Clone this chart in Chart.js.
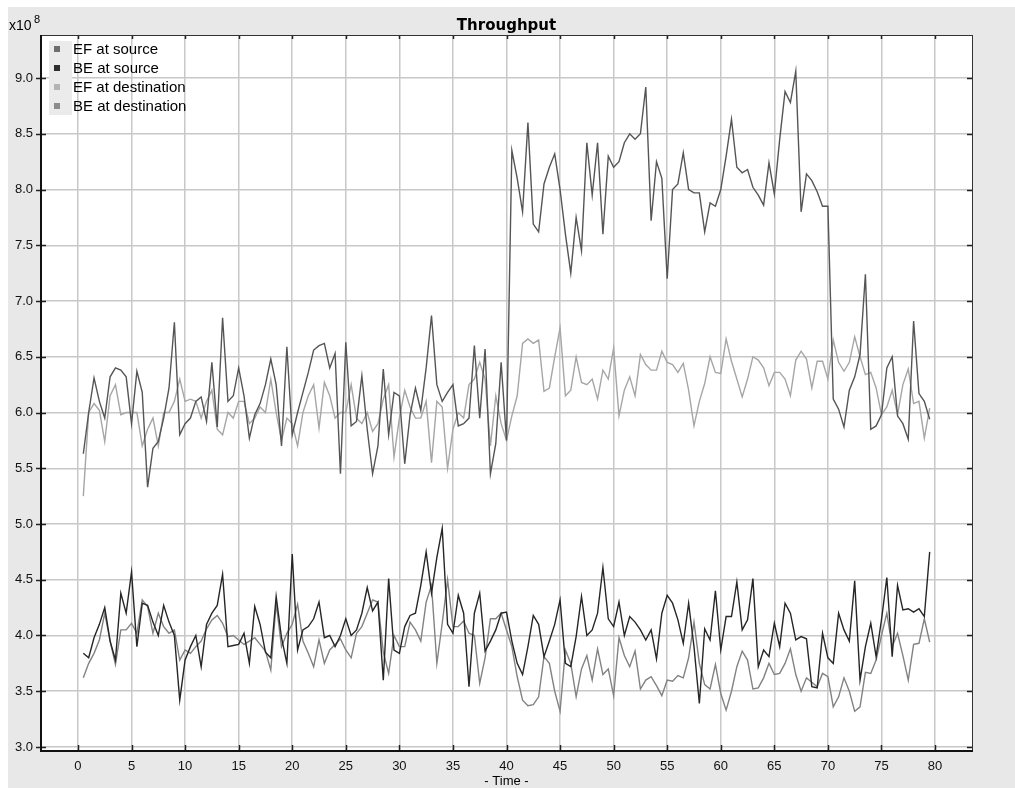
<!DOCTYPE html>
<html>
<head>
<meta charset="utf-8">
<title>Throughput</title>
<script src="https://cdn.jsdelivr.net/npm/chart.js@4.4.0/dist/chart.umd.min.js"></script>
<style>
    html, body { margin: 0; padding: 0; background: #fff; }
    canvas { display: block; }
</style>
</head>
<body>
<canvas id="chart" width="1015" height="788"></canvas>
<script>
// time axis (one sample every half unit)
const times = [
    0.5, 1, 1.5, 2, 2.5, 3, 3.5, 4, 4.5, 5,
    5.5, 6, 6.5, 7, 7.5, 8, 8.5, 9, 9.5, 10,
    10.5, 11, 11.5, 12, 12.5, 13, 13.5, 14, 14.5, 15,
    15.5, 16, 16.5, 17, 17.5, 18, 18.5, 19, 19.5, 20,
    20.5, 21, 21.5, 22, 22.5, 23, 23.5, 24, 24.5, 25,
    25.5, 26, 26.5, 27, 27.5, 28, 28.5, 29, 29.5, 30,
    30.5, 31, 31.5, 32, 32.5, 33, 33.5, 34, 34.5, 35,
    35.5, 36, 36.5, 37, 37.5, 38, 38.5, 39, 39.5, 40,
    40.5, 41, 41.5, 42, 42.5, 43, 43.5, 44, 44.5, 45,
    45.5, 46, 46.5, 47, 47.5, 48, 48.5, 49, 49.5, 50,
    50.5, 51, 51.5, 52, 52.5, 53, 53.5, 54, 54.5, 55,
    55.5, 56, 56.5, 57, 57.5, 58, 58.5, 59, 59.5, 60,
    60.5, 61, 61.5, 62, 62.5, 63, 63.5, 64, 64.5, 65,
    65.5, 66, 66.5, 67, 67.5, 68, 68.5, 69, 69.5, 70,
    70.5, 71, 71.5, 72, 72.5, 73, 73.5, 74, 74.5, 75,
    75.5, 76, 76.5, 77, 77.5, 78, 78.5, 79, 79.5
];

// throughput, x10^8
const efSource = [
    5.63, 6.00, 6.31, 6.10, 5.95, 6.32, 6.40, 6.38, 6.32, 5.90,
    6.37, 6.18, 5.33, 5.68, 5.74, 5.95, 6.22, 6.81, 5.80, 5.90,
    5.95, 6.10, 6.14, 5.92, 6.45, 5.87, 6.85, 6.10, 6.15, 6.40,
    6.15, 5.77, 5.98, 6.08, 6.25, 6.48, 6.25, 5.70, 6.59, 5.80,
    6.00, 6.18, 6.36, 6.56, 6.60, 6.62, 6.40, 6.53, 5.45, 6.63,
    5.88, 5.92, 6.33, 5.85, 5.45, 5.70, 6.39, 5.80, 6.18, 6.15,
    5.54, 5.98, 6.22, 6.02, 6.40, 6.87, 6.25, 6.10, 6.18, 6.25,
    5.88, 5.90, 5.95, 6.60, 5.95, 6.57, 5.45, 5.72, 6.45, 5.75,
    8.35, 8.10, 7.80, 8.60, 7.69, 7.62, 8.05, 8.20, 8.32, 8.00,
    7.60, 7.25, 7.75, 7.45, 8.42, 7.95, 8.42, 7.60, 8.30, 8.20,
    8.25, 8.42, 8.50, 8.45, 8.50, 8.92, 7.72, 8.25, 8.10, 7.20,
    8.00, 8.05, 8.33, 8.00, 7.97, 7.97, 7.62, 7.88, 7.85, 8.00,
    8.30, 8.63, 8.20, 8.15, 8.18, 8.02, 7.95, 7.86, 8.24, 7.96,
    8.45, 8.88, 8.78, 9.06, 7.80, 8.14, 8.08, 7.98, 7.85, 7.85,
    6.12, 6.03, 5.87, 6.20, 6.32, 6.52, 7.24, 5.85, 5.88, 5.98,
    6.40, 6.50, 5.97, 5.90, 5.76, 6.82, 6.17, 6.10, 5.94
];

const beSource = [
    3.84, 3.80, 3.98, 4.10, 4.25, 3.95, 3.78, 4.38, 4.20, 4.57,
    3.90, 4.29, 4.27, 4.12, 4.00, 4.27, 4.12, 4.00, 3.42, 3.78,
    3.90, 4.00, 3.72, 4.10, 4.20, 4.27, 4.55, 3.90, 3.91, 3.92,
    4.02, 3.75, 4.26, 4.10, 3.85, 3.80, 4.35, 3.98, 3.75, 4.73,
    3.87, 4.05, 4.08, 4.15, 4.30, 3.98, 4.00, 3.90, 4.00, 4.15,
    4.00, 4.05, 4.20, 4.43, 4.22, 4.30, 3.60, 4.51, 3.87, 3.84,
    4.08, 4.18, 4.20, 4.45, 4.75, 4.38, 4.70, 4.96, 4.10, 4.02,
    4.36, 4.20, 3.54, 4.20, 4.38, 3.86, 3.95, 4.05, 4.20, 4.21,
    3.95, 3.75, 3.65, 3.90, 4.18, 4.10, 3.81, 3.95, 4.10, 4.32,
    3.75, 3.72, 3.99, 4.35, 4.00, 4.05, 4.20, 4.61, 4.15, 4.08,
    4.30, 4.00, 4.17, 4.12, 4.05, 3.96, 4.05, 3.79, 4.20, 4.36,
    4.29, 4.14, 3.93, 4.29, 3.90, 3.39, 4.06, 3.96, 4.40, 3.87,
    4.17, 4.17, 4.48, 4.05, 4.14, 4.51, 3.72, 3.87, 3.81, 4.11,
    3.90, 4.29, 4.20, 3.96, 3.99, 3.97, 3.54, 3.53, 4.02, 3.80,
    3.75, 4.20, 4.05, 3.95, 4.49, 3.60, 3.90, 4.11, 3.81, 4.14,
    4.52, 3.81, 4.45, 4.23, 4.24, 4.21, 4.24, 4.17, 4.75
];

const efDestination = [
    5.25, 6.00, 6.08, 6.02, 5.74, 6.15, 6.25, 5.98, 6.00, 6.00,
    6.00, 5.70, 5.85, 5.95, 5.70, 6.00, 6.00, 6.10, 6.30, 6.10,
    6.12, 6.10, 5.95, 6.10, 6.20, 5.85, 5.80, 6.00, 5.95, 6.10,
    6.10, 5.90, 5.95, 6.05, 6.00, 6.30, 6.00, 5.75, 5.95, 5.90,
    5.70, 6.00, 6.15, 6.25, 5.86, 6.27, 6.15, 5.95, 6.00, 6.00,
    6.25, 5.95, 5.90, 6.00, 5.83, 5.90, 6.12, 6.25, 5.60, 5.95,
    6.20, 6.05, 5.95, 5.95, 6.10, 5.55, 6.10, 6.05, 5.50, 5.85,
    6.00, 5.95, 6.25, 6.30, 6.45, 6.30, 5.70, 6.15, 5.90, 5.75,
    5.97, 6.15, 6.62, 6.66, 6.62, 6.65, 6.19, 6.22, 6.50, 6.76,
    6.15, 6.20, 6.50, 6.27, 6.25, 6.30, 6.12, 6.38, 6.30, 6.58,
    5.97, 6.20, 6.32, 6.15, 6.52, 6.43, 6.38, 6.38, 6.55, 6.45,
    6.43, 6.36, 6.44, 6.20, 5.88, 6.10, 6.26, 6.50, 6.36, 6.35,
    6.66, 6.46, 6.30, 6.14, 6.30, 6.50, 6.47, 6.40, 6.24, 6.36,
    6.36, 6.30, 6.15, 6.47, 6.55, 6.48, 6.22, 6.46, 6.46, 6.30,
    6.65, 6.45, 6.37, 6.45, 6.68, 6.50, 6.34, 6.36, 6.22, 5.98,
    6.05, 6.20, 5.98, 6.25, 6.39, 6.08, 6.10, 5.77, 6.04
];

const beDestination = [
    3.62, 3.75, 3.84, 3.96, 4.20, 3.95, 3.74, 4.05, 4.05, 4.11,
    4.02, 4.32, 4.26, 4.02, 4.20, 4.08, 4.02, 4.05, 3.78, 3.87,
    3.84, 3.90, 3.95, 4.06, 4.14, 4.18, 4.11, 3.99, 4.00, 3.96,
    3.92, 3.95, 3.98, 3.92, 3.86, 3.69, 4.29, 3.90, 4.02, 4.10,
    4.28, 3.95, 3.84, 3.72, 3.96, 3.75, 3.87, 3.92, 3.97, 3.87,
    3.80, 4.02, 4.08, 4.20, 4.32, 4.30, 3.85, 3.66, 4.00, 3.90,
    3.90, 4.12, 4.05, 3.95, 4.30, 4.45, 3.75, 4.11, 4.50, 4.08,
    4.08, 4.13, 4.02, 4.00, 3.57, 3.80, 4.15, 4.15, 4.20, 4.05,
    3.90, 3.63, 3.42, 3.37, 3.38, 3.45, 3.81, 3.75, 3.50, 3.32,
    3.87, 3.75, 3.45, 3.70, 3.82, 3.60, 3.88, 3.65, 3.70, 3.46,
    3.98, 3.82, 3.72, 3.86, 3.52, 3.60, 3.63, 3.55, 3.46, 3.60,
    3.59, 3.64, 3.62, 3.80, 4.12, 3.75, 3.56, 3.52, 3.74, 3.48,
    3.33, 3.50, 3.72, 3.86, 3.78, 3.52, 3.53, 3.62, 3.75, 3.65,
    3.66, 3.75, 3.88, 3.65, 3.50, 3.62, 3.58, 3.54, 3.66, 3.63,
    3.36, 3.45, 3.62, 3.50, 3.32, 3.36, 3.67, 3.66, 3.78, 4.00,
    4.20, 3.90, 4.02, 3.82, 3.60, 3.92, 3.93, 4.15, 3.94
];

const seriesNames = ["EF at source", "BE at source", "EF at destination", "BE at destination"];
const xTicks = [0, 5, 10, 15, 20, 25, 30, 35, 40, 45, 50, 55, 60, 65, 70, 75, 80];
const yTicks = [3.0, 3.5, 4.0, 4.5, 5.0, 5.5, 6.0, 6.5, 7.0, 7.5, 8.0, 8.5, 9.0];

const lineColors = ["#555555", "#262626", "#a6a6a6", "#828282"];
const swatchColors = ["#6e6e6e", "#2e2e2e", "#b4b4b4", "#8c8c8c"];

function toPoints(values) {
    return values.map(function (v, i) {
        return { x: times[i], y: v };
    });
}

const framePlugin = {
    id: "frame",
    beforeDraw: function (chart) {
        const ctx = chart.ctx;
        const area = chart.chartArea;
        ctx.save();
        ctx.fillStyle = "#ffffff";
        ctx.fillRect(0, 0, chart.width, chart.height);
        ctx.fillStyle = "#e8e8e8";
        ctx.fillRect(8, 7, chart.width - 8, chart.height - 7);
        ctx.fillStyle = "#ffffff";
        ctx.fillRect(area.left, area.top, area.right - area.left, area.bottom - area.top);
        ctx.restore();
    },
    afterDatasetsDraw: function (chart) {
        const ctx = chart.ctx;
        const area = chart.chartArea;
        const xScale = chart.scales.x;
        const yScale = chart.scales.y;
        ctx.save();
        ctx.strokeStyle = "#222";
        ctx.lineWidth = 1.5;
        ctx.beginPath();
        xTicks.forEach(function (t) {
            const px = Math.round(xScale.getPixelForValue(t)) + 0.5;
            ctx.moveTo(px, area.bottom);
            ctx.lineTo(px, area.bottom - 5);
            ctx.moveTo(px, area.top);
            ctx.lineTo(px, area.top + 4);
        });
        yTicks.forEach(function (v) {
            const py = Math.round(yScale.getPixelForValue(v)) + 0.5;
            ctx.moveTo(area.left - 5, py);
            ctx.lineTo(area.left + 5, py);
            ctx.moveTo(area.right, py);
            ctx.lineTo(area.right - 5, py);
        });
        ctx.stroke();
        ctx.lineWidth = 1;
        ctx.strokeStyle = "#333";
        ctx.strokeRect(area.left + 0.5, area.top + 0.5, area.right - area.left, area.bottom - area.top);
        ctx.lineWidth = 2;
        ctx.strokeStyle = "#111";
        ctx.beginPath();
        ctx.moveTo(area.left, area.top);
        ctx.lineTo(area.left, area.bottom + 1);
        ctx.lineTo(area.right + 1, area.bottom + 1);
        ctx.stroke();
        ctx.restore();
    },
    afterDraw: function (chart) {
        const ctx = chart.ctx;
        const area = chart.chartArea;
        ctx.save();
        ctx.fillStyle = "#000";

        // title
        ctx.font = "bold 15px 'DejaVu Sans'";
        ctx.textAlign = "center";
        ctx.textBaseline = "alphabetic";
        ctx.fillText("Throughput", (area.left + area.right) / 2, 30);

        // exponent of the value axis
        ctx.font = "14px 'Liberation Sans'";
        ctx.textAlign = "left";
        ctx.fillText("x10", 9, 30);
        ctx.font = "11px 'Liberation Sans'";
        ctx.fillText("8", 34, 23);

        // axis title
        ctx.font = "13px 'Liberation Sans'";
        ctx.textAlign = "center";
        ctx.fillText("- Time -", (area.left + area.right) / 2, 785);

        // legend inside the plot
        const rowHeight = 19;
        const firstRow = area.top + 14;
        ctx.fillStyle = "#ebebeb";
        ctx.fillRect(area.left + 8, area.top + 6, 23, rowHeight * 3 + 17);
        ctx.font = "15px 'Liberation Sans'";
        ctx.textAlign = "left";
        ctx.textBaseline = "middle";
        chart.data.datasets.forEach(function (ds, i) {
            const y = firstRow + i * rowHeight;
            ctx.fillStyle = swatchColors[i];
            ctx.fillRect(area.left + 13, y - 3, 6, 6);
            ctx.fillStyle = "#000";
            ctx.fillText(ds.label, area.left + 32, y + 1);
        });
        ctx.restore();
    }
};

const ctx = document.getElementById("chart").getContext("2d");

new Chart(ctx, {
    type: "line",
    data: {
        datasets: [
            { label: seriesNames[0], data: toPoints(efSource), borderColor: lineColors[0] },
            { label: seriesNames[1], data: toPoints(beSource), borderColor: lineColors[1] },
            { label: seriesNames[2], data: toPoints(efDestination), borderColor: lineColors[2] },
            { label: seriesNames[3], data: toPoints(beDestination), borderColor: lineColors[3] }
        ]
    },
    options: {
        responsive: false,
        animation: false,
        layout: { padding: { left: 0, right: 43, top: 35, bottom: 0 } },
        elements: {
            point: { radius: 0 },
            line: { borderWidth: 1.4, tension: 0, fill: false }
        },
        plugins: {
            legend: { display: false },
            tooltip: { enabled: false }
        },
        scales: {
            x: {
                type: "linear",
                min: -3.45,
                max: 83.45,
                afterBuildTicks: function (axis) {
                    axis.ticks = xTicks.map(function (v) { return { value: v }; });
                },
                afterFit: function (axis) { axis.height = 38; },
                grid: { color: "#c8c8c8", lineWidth: 1.5, drawTicks: false },
                border: { display: false },
                ticks: {
                    color: "#111",
                    font: { family: "Liberation Sans", size: 13 },
                    padding: 9,
                    maxRotation: 0,
                    autoSkip: false,
                    callback: function (v) { return String(v); }
                }
            },
            y: {
                type: "linear",
                min: 2.973,
                max: 9.386,
                afterBuildTicks: function (axis) {
                    axis.ticks = yTicks.map(function (v) { return { value: v }; });
                },
                afterFit: function (axis) { axis.width = 41; },
                grid: { color: "#c8c8c8", lineWidth: 1.5, drawTicks: false },
                border: { display: false },
                ticks: {
                    color: "#111",
                    font: { family: "Liberation Sans", size: 13 },
                    padding: 8,
                    autoSkip: false,
                    callback: function (v) { return Number(v).toFixed(1); }
                }
            }
        }
    },
    plugins: [framePlugin]
});
</script>
</body>
</html>
